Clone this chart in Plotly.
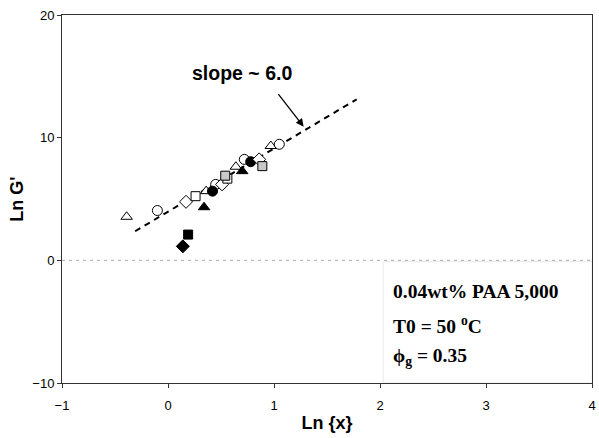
import plotly.graph_objects as go

# data: ln(x) vs ln(G')
tri_open_x = [-0.39, 0.36, 0.64, 0.97]
tri_open_y = [3.55, 5.64, 7.63, 9.32]
circ_open_x = [-0.10, 0.45, 0.72, 1.05]
circ_open_y = [4.06, 6.19, 8.23, 9.46]
sq_fill_x = [0.19]
sq_fill_y = [2.10]
dia_fill_x = [0.14]
dia_fill_y = [1.14]
tri_fill_x = [0.34, 0.70]
tri_fill_y = [4.33, 7.27]
circ_fill_x = [0.42, 0.78]
circ_fill_y = [5.64, 8.04]
dia_open_x = [0.17, 0.51, 0.86]
dia_open_y = [4.77, 6.19, 8.23]
sq_open_x = [0.26, 0.56]
sq_open_y = [5.23, 6.66]
sq_grey_x = [0.54, 0.89]
sq_grey_y = [6.90, 7.68]

fit_x = [-0.31, 1.78]
fit_y = [2.37, 13.13]

series = [
    (tri_open_x, tri_open_y, "triangle-up", "white", 10),
    (circ_open_x, circ_open_y, "circle", "white", 10),
    (sq_fill_x, sq_fill_y, "square", "black", 9),
    (dia_fill_x, dia_fill_y, "diamond", "black", 10),
    (tri_fill_x, tri_fill_y, "triangle-up", "black", 10),
    (circ_fill_x, circ_fill_y, "circle", "black", 10),
    (dia_open_x, dia_open_y, "diamond", "white", 10),
    (sq_open_x, sq_open_y, "square", "white", 9),
    (sq_grey_x, sq_grey_y, "square", "#c8c8c8", 9),
]

info = ["<b>0.04wt% PAA 5,000</b>",
        "<b>T0 = 50 <sup>o</sup>C</b>",
        "<b>\u03d5<sub>g</sub> = 0.35</b>"]
info_y = [-2.55, -5.25, -7.9]

fig = go.Figure()

fig.add_trace(go.Scatter(x=fit_x, y=fit_y, mode="lines",
                         line=dict(color="black", width=2, dash="6px,5px")))

for xs, ys, sym, fill, size in series:
    fig.add_trace(go.Scatter(x=xs, y=ys, mode="markers",
                             marker=dict(symbol=sym, size=size, color=fill,
                                         line=dict(color="black", width=1))))

# zero line
fig.add_shape(type="line", x0=-1, x1=4, y0=0, y1=0, xref="x", yref="y",
              line=dict(color="#aaaaaa", width=1, dash="3px,4px"), layer="below")

# faint box around the sample info
fig.add_shape(type="rect", x0=2.03, x1=4, y0=-10, y1=-0.1, xref="x", yref="y",
              line=dict(color="#ececec", width=1), layer="below")

fig.add_annotation(x=0.70, y=15.3, text="<b>slope ~ 6.0</b>", showarrow=False,
                   font=dict(family="Arial", size=19.5, color="black"))
fig.add_annotation(x=1.28, y=10.9, ax=1.03, ay=13.68, xref="x", yref="y",
                   axref="x", ayref="y", text="", showarrow=True,
                   arrowhead=2, arrowsize=1.2, arrowwidth=1.3, arrowcolor="black")

for t, yy in zip(info, info_y):
    fig.add_annotation(x=2.10, y=yy, text=t, showarrow=False, xanchor="left",
                       font=dict(family="Liberation Serif", size=19.5, color="black"))

fig.update_layout(
    width=599, height=438,
    margin=dict(l=62, r=3, t=15, b=55),
    paper_bgcolor="white", plot_bgcolor="white",
    showlegend=False,
    font=dict(family="Arial", size=13, color="black"),
    xaxis=dict(range=[-1, 4], dtick=1, showgrid=False, zeroline=False,
               showline=True, linecolor="#333333", mirror=True,
               ticks="outside", ticklen=4, tickcolor="#333333",
               ticklabelstandoff=6, ticklabeloverflow="allow",
               title=dict(text="<b>Ln {x}</b>", font=dict(size=18), standoff=4)),
    yaxis=dict(range=[-10, 20], dtick=10, showgrid=False, zeroline=False,
               showline=True, linecolor="#333333", mirror=True,
               ticks="outside", ticklen=4, tickcolor="#333333",
               title=dict(text="<b>Ln G'</b>", font=dict(size=18), standoff=4)),
)

# page body has a default 8px margin; drop it so the figure sits at 0,0
fig.write_html("out.html", config={"displayModeBar": False},
               post_script="document.body.style.margin='0';")
